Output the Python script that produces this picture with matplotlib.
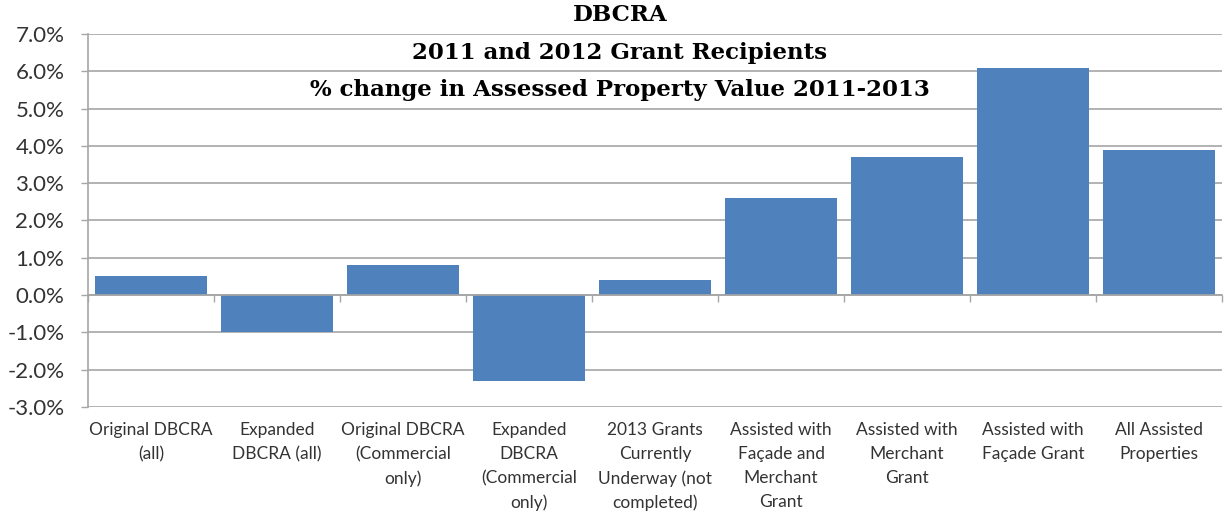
import matplotlib
matplotlib.use("Agg")
import matplotlib.pyplot as plt
import numpy as np
from matplotlib.ticker import FuncFormatter

# Data
categories = [
    "Original DBCRA\n(all)",
    "Expanded\nDBCRA (all)",
    "Original DBCRA\n(Commercial\nonly)",
    "Expanded\nDBCRA\n(Commercial\nonly)",
    "2013 Grants\nCurrently\nUnderway (not\ncompleted)",
    "Assisted with\nFaçade and\nMerchant\nGrant",
    "Assisted with\nMerchant\nGrant",
    "Assisted with\nFaçade Grant",
    "All Assisted\nProperties",
]
pct_change = [0.5, -1.0, 0.8, -2.3, 0.4, 2.6, 3.7, 6.1, 3.9]
title_lines = ["DBCRA", "2011 and 2012 Grant Recipients",
               "% change in Assessed Property Value 2011-2013"]

label_font = ["Lato", "DejaVu Sans"]
title_font = ["DejaVu Serif"]

fig = plt.figure(figsize=(12.25, 5.15), dpi=100)
ax = fig.add_axes([0.0718, 0.2097, 0.9258, 0.7243])

x = np.arange(len(categories))
ax.bar(x, pct_change, width=0.89, color="#4F81BD", zorder=3)

ax.set_xlim(-0.5, len(categories) - 0.5)
ax.set_ylim(-3, 7)
ax.set_yticks(np.arange(-3, 8, 1))
ax.yaxis.set_major_formatter(FuncFormatter(lambda v, p: f"{v:.1f}%"))
ax.grid(axis="y", color="#A6A6A6", linewidth=1.2, zorder=0)
ax.tick_params(axis="y", length=5, width=1, color="#A6A6A6",
               labelsize=16, labelcolor="#333333", pad=12)
for lab in ax.get_yticklabels():
    lab.set_family(label_font)

for s in ["top", "right"]:
    ax.spines[s].set_visible(False)
ax.spines["left"].set_color("#A6A6A6")
ax.spines["left"].set_linewidth(1.2)
# x-axis line sits at zero, with tick marks between categories
ax.spines["bottom"].set_position(("data", 0))
ax.spines["bottom"].set_color("#A6A6A6")
ax.spines["bottom"].set_linewidth(1.2)
ax.spines["bottom"].set_zorder(4)
ax.set_xticks(np.append(x - 0.5, x[-1] + 0.5))
ax.set_xticklabels([])
ax.tick_params(axis="x", length=5, width=1, color="#A6A6A6", direction="out")

# category labels along the bottom of the plot
sec = ax.secondary_xaxis(0.0)
sec.set_xticks(x)
sec.set_xticklabels(categories, fontsize=12.5, color="#333333",
                    family=label_font, linespacing=1.6)
sec.tick_params(length=0, pad=11)
sec.spines["bottom"].set_visible(False)

for i, line in enumerate(title_lines):
    fig.text(0.506, 0.97 - i * 0.072, line, ha="center", va="center",
             fontsize=16.5, fontweight="bold", family=title_font, color="black")

fig.savefig("out.png", dpi=100)
